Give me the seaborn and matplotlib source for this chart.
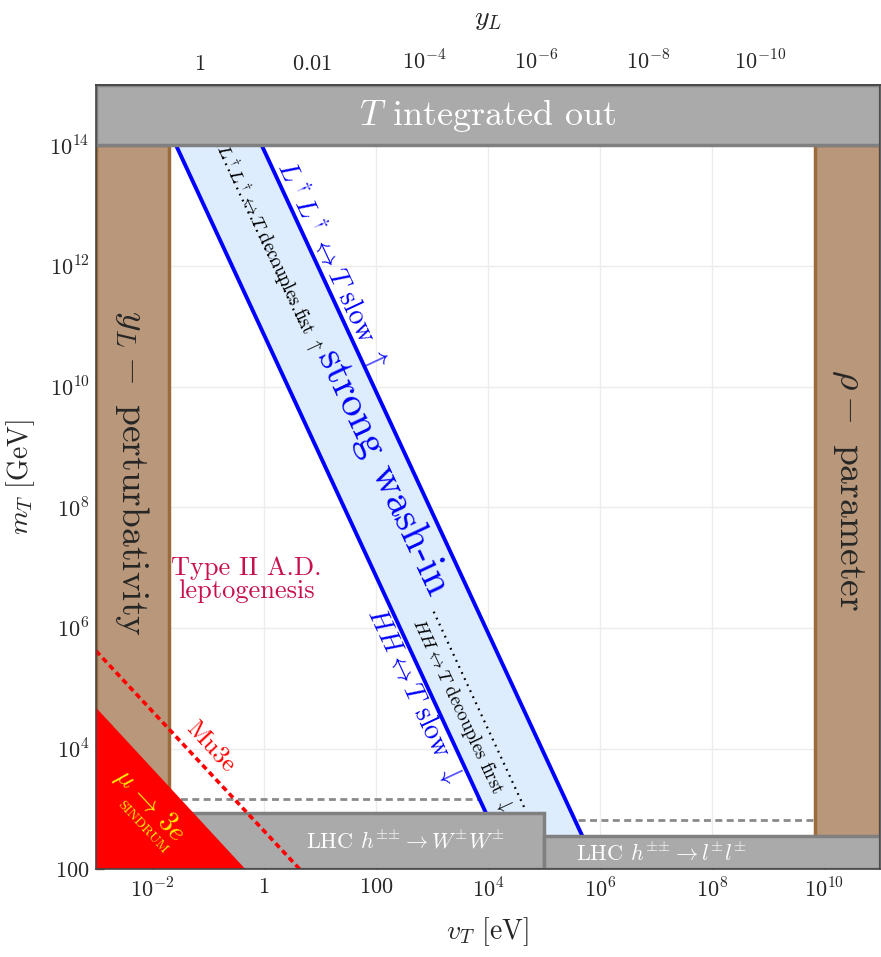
import numpy as np
import matplotlib
matplotlib.use("Agg")
import matplotlib.pyplot as plt
import seaborn as sns
from matplotlib.ticker import FixedLocator, FixedFormatter, NullLocator

# --- data ---
v_lim = [1e-3, 1e11]          # v_T [eV]
m_lim = [1e2, 1e15]           # m_T [GeV]
m_integrated_out = 1e14
v_perturbativity = 0.0203     # y_L = sqrt(4 pi)
v_rho = 7e9
yl_scale = 0.072              # y_L = yl_scale / v_T

band_lower_v = [10**-1.57, 10**4.43]
band_upper_v = [10**-0.04, 10**5.96]
band_m = [1e14, 1e2]

decouple_upper_v = [10**-0.835, 10**0.695]
decouple_upper_m = [1e14, 10**10.94]
decouple_lower_v = [10**3.03, 10**4.66]
decouple_lower_m = [10**6.27, 10**3.0]

sindrum_v = [1e-3, 10**-0.33, 1e-3]
sindrum_m = [10**4.68, 1e2, 1e2]
mu3e_v = [1e-3, 10**0.64]
mu3e_m = [10**5.62, 1e2]

lhc_ww_v = [0.0203, 1e5]
lhc_ww_m = 870
lhc_ll_v = [1e5, 1e11]
lhc_ll_m = 350
hl_ww_v = [0.0203, 1e5]
hl_ww_m = 1480
hl_ll_v = [1e5, 7e9]
hl_ll_m = 660

x_ticks = [1e-2, 1, 1e2, 1e4, 1e6, 1e8, 1e10]
x_labels = [r"$10^{-2}$", r"$1$", r"$100$", r"$10^{4}$", r"$10^{6}$", r"$10^{8}$", r"$10^{10}$"]
y_ticks = [1e2, 1e4, 1e6, 1e8, 1e10, 1e12, 1e14]
y_labels = [r"$100$", r"$10^{4}$", r"$10^{6}$", r"$10^{8}$", r"$10^{10}$", r"$10^{12}$", r"$10^{14}$"]
yl_ticks = [1, 1e-2, 1e-4, 1e-6, 1e-8, 1e-10]
yl_labels = [r"$1$", r"$0.01$", r"$10^{-4}$", r"$10^{-6}$", r"$10^{-8}$", r"$10^{-10}$"]

# --- style ---
sns.set_theme(style="white")
plt.rcParams["font.family"] = "serif"
plt.rcParams["font.serif"] = ["cmr10", "DejaVu Serif"]
plt.rcParams["mathtext.fontset"] = "cm"
plt.rcParams["axes.unicode_minus"] = False
plt.rcParams["axes.formatter.use_mathtext"] = True

grey = "#aaaaaa"
grey_edge = "#808080"
brown = "#b8977a"
brown_edge = "#9c6b3b"
blue = "#0000ff"
band_fill = "#ddedfd"
crimson = "#c8104e"

fig = plt.figure(figsize=(8.81, 9.57), dpi=100)
ax = fig.add_axes([96 / 881, 87.7 / 957, 784 / 881, 784.3 / 957])
ax.set_xscale("log")
ax.set_yscale("log")
ax.set_xlim(v_lim)
ax.set_ylim(m_lim)

# grid
for t in x_ticks:
    ax.axvline(t, color="#ececec", lw=1, zorder=0)
for t in y_ticks:
    ax.axhline(t, color="#ececec", lw=1, zorder=0)

# exclusion bands
ax.fill([v_lim[0], v_perturbativity, v_perturbativity, v_lim[0]],
        [m_lim[0], m_lim[0], m_integrated_out, m_integrated_out],
        facecolor=brown, edgecolor=brown_edge, lw=2.5, zorder=1)
ax.fill([v_rho, v_lim[1], v_lim[1], v_rho],
        [m_lim[0], m_lim[0], m_integrated_out, m_integrated_out],
        facecolor=brown, edgecolor=brown_edge, lw=2.5, zorder=1)

# HL-LHC projections (dashed)
sns.lineplot(x=hl_ww_v, y=[hl_ww_m, hl_ww_m], ax=ax, color="#8a8a8a", lw=2,
             linestyle=(0, (2.5, 1.6)), zorder=1.5, estimator=None)
sns.lineplot(x=hl_ll_v, y=[hl_ll_m, hl_ll_m], ax=ax, color="#8a8a8a", lw=2,
             linestyle=(0, (2.5, 1.6)), zorder=1.5, estimator=None)

# strong wash-in band
ax.fill([band_lower_v[0], band_lower_v[1], band_upper_v[1], band_upper_v[0]],
        [band_m[0], band_m[1], band_m[1], band_m[0]],
        facecolor=band_fill, edgecolor="none", zorder=2)
sns.lineplot(x=band_lower_v, y=band_m, ax=ax, color=blue, lw=2.8, zorder=3, estimator=None)
sns.lineplot(x=band_upper_v, y=band_m, ax=ax, color=blue, lw=2.8, zorder=3, estimator=None)
sns.lineplot(x=decouple_upper_v, y=decouple_upper_m, ax=ax, color="black", lw=1.6,
             linestyle=(0, (0.8, 2.2)), zorder=3, estimator=None)
sns.lineplot(x=decouple_lower_v, y=decouple_lower_m, ax=ax, color="black", lw=1.6,
             linestyle=(0, (0.8, 2.2)), zorder=3, estimator=None)

# LHC boxes and integrated-out band
ax.fill([lhc_ww_v[0], lhc_ww_v[1], lhc_ww_v[1], lhc_ww_v[0]],
        [m_lim[0], m_lim[0], lhc_ww_m, lhc_ww_m],
        facecolor=grey, edgecolor=grey_edge, lw=2.5, zorder=4)
ax.fill([lhc_ll_v[0], lhc_ll_v[1], lhc_ll_v[1], lhc_ll_v[0]],
        [m_lim[0], m_lim[0], lhc_ll_m, lhc_ll_m],
        facecolor=grey, edgecolor=grey_edge, lw=2.5, zorder=4)
ax.fill([v_lim[0], v_lim[1], v_lim[1], v_lim[0]],
        [m_integrated_out, m_integrated_out, m_lim[1], m_lim[1]],
        facecolor=grey, edgecolor=grey_edge, lw=2.5, zorder=4)

# SINDRUM and Mu3e
ax.fill(sindrum_v, sindrum_m, facecolor="red", edgecolor="none", zorder=5)
sns.lineplot(x=mu3e_v, y=mu3e_m, ax=ax, color="red", lw=2.6,
             linestyle=(0, (1.6, 1.1)), zorder=6, estimator=None)

# labels
txt = dict(ha="center", va="center", rotation_mode="anchor", zorder=7)
ax.text(1e4, 10**14.5, r"$T$ integrated out", fontsize=26, color="white", **txt)
ax.text(10**-2.36, 10**8.57, r"$y_L -$ perturbativity", fontsize=27, rotation=-90, **txt)
ax.text(10**10.43, 10**8.29, r"$\rho -$ parameter", fontsize=27, rotation=-90, **txt)
ax.text(10**-0.32, 10**6.8, "Type II A.D.\nleptogenesis", fontsize=19, color=crimson,
        linespacing=1.0, **txt)
ax.text(10**-0.96, 10**4.03, "Mu3e", fontsize=18, color="red", rotation=-47, **txt)
ax.text(10**-2.04, 10**3.07, r"$\mu\,\rightarrow\,3e$", fontsize=20, color="#ffee00",
        rotation=-47, **txt)
ax.text(10**-2.18, 10**2.69, "SINDRUM", fontsize=10, color="#ffee00", rotation=-47, **txt)
ax.text(10**2.125, 10**8.59, "strong wash-in", fontsize=30, color=blue, rotation=-65, **txt)
ax.text(10**1.232, 10**12.03, r"$L^\dagger L^\dagger \leftrightarrow T$ slow $\uparrow$",
        fontsize=20, color=blue, rotation=-65, **txt)
ax.text(10**2.696, 10**4.89, r"$HH \leftrightarrow T$ slow $\downarrow$",
        fontsize=20, color=blue, rotation=-65, **txt)
ax.text(10**0.09, 10**12.3, r"$L^\dagger L^\dagger \leftrightarrow T$ decouples fist $\uparrow$",
        fontsize=13.5, color="black", rotation=-65, **txt)
ax.text(10**3.536, 10**4.56, r"$HH \leftrightarrow T$ decouples first $\downarrow$",
        fontsize=13.5, color="black", rotation=-65, **txt)
ax.text(10**2.52, 10**2.47, r"LHC $h^{{\pm}{\pm}} \rightarrow W^{\pm}W^{\pm}$",
        fontsize=16, color="white", **txt)
ax.text(10**7.1, 10**2.27, r"LHC $h^{{\pm}{\pm}} \rightarrow l^{\pm}l^{\pm}$",
        fontsize=16, color="white", **txt)

# axes, ticks
ax.xaxis.set_major_locator(FixedLocator(x_ticks))
ax.xaxis.set_major_formatter(FixedFormatter(x_labels))
ax.yaxis.set_major_locator(FixedLocator(y_ticks))
ax.yaxis.set_major_formatter(FixedFormatter(y_labels))
ax.xaxis.set_minor_locator(NullLocator())
ax.yaxis.set_minor_locator(NullLocator())
ax.tick_params(axis="x", direction="in", length=6, width=1, color="#555555",
               labelsize=16, pad=6, bottom=True, top=False)
ax.tick_params(axis="y", direction="in", length=6, width=1, color="#555555",
               labelsize=16, pad=4.5, left=True, right=False)
for s in ax.spines.values():
    s.set_color("#444444")
    s.set_linewidth(1.2)
    s.set_zorder(8)
ax.set_xlabel(r"$v_T$ [eV]", fontsize=20, labelpad=10)
ax.set_ylabel(r"$m_T$ [GeV]", fontsize=20, labelpad=9)


def to_yl(v):
    v = np.asarray(v, dtype=float)
    return yl_scale / np.where(v > 0, v, np.nan)


top = ax.secondary_xaxis("top", functions=(to_yl, to_yl))
top.xaxis.set_major_locator(FixedLocator(yl_ticks))
top.xaxis.set_major_formatter(FixedFormatter(yl_labels))
top.xaxis.set_minor_locator(NullLocator())
top.tick_params(direction="in", length=6, width=1, color="#555555", labelsize=16, pad=8)
top.spines["top"].set_color("#444444")
top.set_xlabel(r"$y_L$", fontsize=20, labelpad=18)

fig.savefig("out.png", dpi=100)
